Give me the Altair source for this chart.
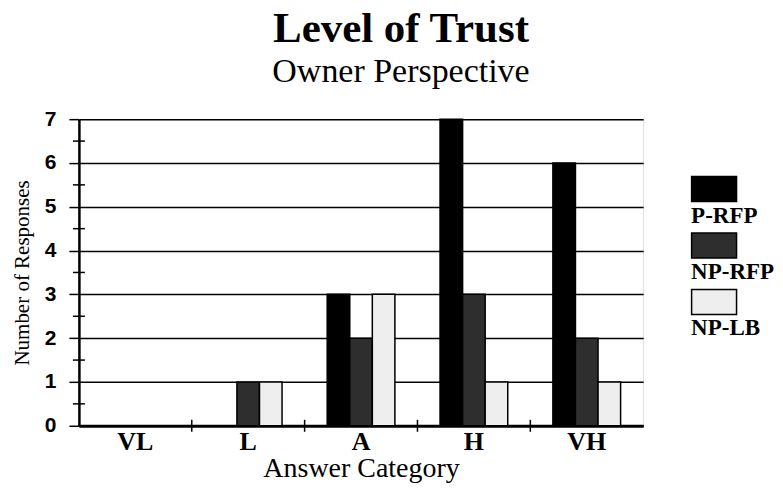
import altair as alt
import pandas as pd

categories = ["VL", "L", "A", "H", "VH"]
series = ["P-RFP", "NP-RFP", "NP-LB"]
p_rfp = [0, 0, 3, 7, 6]
np_rfp = [0, 1, 2, 3, 2]
np_lb = [0, 1, 3, 1, 1]
series_colors = ["#000000", "#2e2e2e", "#eeeeee"]
y_ticks = [0, 1, 2, 3, 4, 5, 6, 7]
minor_ticks = [0.5, 1.5, 2.5, 3.5, 4.5, 5.5, 6.5]
boundary_cats = ["L", "A", "H", "VH"]

rows = []
for name, vals in zip(series, [p_rfp, np_rfp, np_lb]):
    for c, v in zip(categories, vals):
        rows.append({"cat": c, "series": name, "value": v})
df = pd.DataFrame(rows)

SERIF = "Liberation Serif"
SANS = "Liberation Sans"

x_scale = alt.Scale(domain=categories, paddingInner=0, paddingOuter=0)
y_scale = alt.Scale(domain=[0, 7], nice=False)

bars = alt.Chart(df).mark_bar(stroke="black", strokeWidth=1.5).encode(
    x=alt.X("cat:N", scale=x_scale,
            axis=alt.Axis(title="Answer Category", labelAngle=0, ticks=False, tickSize=0,
                          labelFont=SERIF, labelFontWeight="bold", labelFontSize=26,
                          labelPadding=3, labelColor="black",
                          titleFont=SERIF, titleFontWeight="normal", titleFontSize=28,
                          titleColor="black", titlePadding=0,
                          domainColor="black", domainWidth=3)),
    xOffset=alt.XOffset("series:N", sort=series,
                        scale=alt.Scale(domain=series, paddingInner=0, paddingOuter=1)),
    y=alt.Y("value:Q", scale=y_scale,
            axis=alt.Axis(title="Number of Responses", values=y_ticks, grid=True,
                          gridColor="black", gridWidth=1.5, gridOpacity=1,
                          tickSize=10, tickColor="black", tickWidth=1.5,
                          labelFont=SANS, labelFontWeight="bold", labelFontSize=21,
                          labelColor="black", labelPadding=13,
                          titleFont=SERIF, titleFontWeight="normal", titleFontSize=21,
                          titleColor="black", titlePadding=12,
                          domainColor="black", domainWidth=2.5)),
    color=alt.Color("series:N", sort=series,
                    scale=alt.Scale(domain=series, range=series_colors),
                    legend=alt.Legend(title=None, orient="none", legendX=590, legendY=85,
                                      symbolType="M3,-9.75H14.25V-3.5H3Z",
                                      symbolSize=64, symbolStrokeColor="black",
                                      symbolStrokeWidth=1.5, symbolOpacity=1,
                                      labelFont=SERIF, labelFontWeight="bold",
                                      labelFontSize=23, labelColor="black",
                                      labelOffset=0, rowPadding=1.5, padding=0)),
)

minor = alt.Chart(pd.DataFrame({"v": minor_ticks})).mark_tick(
    orient="horizontal", size=12, thickness=1.5, color="black", opacity=1
).encode(y=alt.Y("v:Q", scale=y_scale), x=alt.value(0))

xticks = alt.Chart(pd.DataFrame({"cat": boundary_cats})).mark_tick(
    orient="vertical", size=12, thickness=1.5, color="black", opacity=1
).encode(x=alt.X("cat:N", scale=x_scale, bandPosition=0), y=alt.datum(0))

chart = alt.layer(bars, minor, xticks).properties(
    width=565, height=307,
    title=alt.TitleParams(text="Level of Trust", subtitle="Owner Perspective",
                          font=SERIF, fontSize=43, fontWeight="bold", color="black",
                          subtitleFont=SERIF, subtitleFontSize=34, subtitleColor="black",
                          subtitlePadding=4, anchor="middle", dx=40, offset=19),
    padding={"left": 3, "top": 0, "right": 0, "bottom": 0},
).configure_view(stroke="black", strokeWidth=1.5).configure(background="white")

chart.save("out.html", embed_options={"renderer": "svg", "actions": False})
